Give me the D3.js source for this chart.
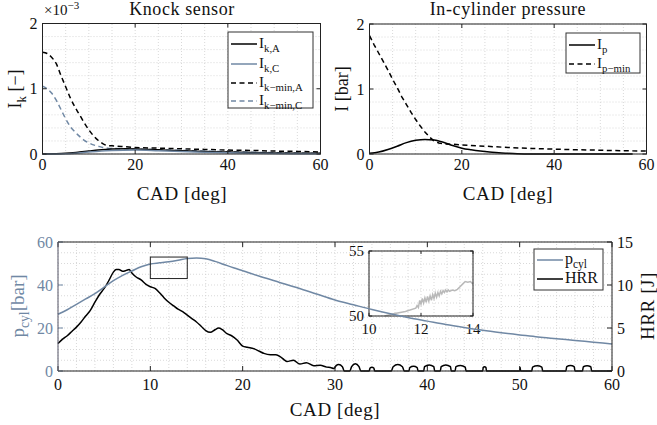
<!DOCTYPE html>
<html>
<head>
<meta charset="utf-8">
<script src="https://cdn.jsdelivr.net/npm/d3@7"></script>
<style>
  body { margin: 0; background: #fff; }
  svg text { font-family: "Liberation Serif", "DejaVu Serif", serif; fill: #111; }
</style>
</head>
<body>
<div id="chart"></div>
<script>
// ---- knock sensor (values in 1e-3) ----
const ikMinACad = [0,1,2,3,4,5,6,7,8,9,10,11,12,13,14,15,17,20,25,30,35,40,45,50,55,60];
const ikMinA    = [1.56,1.54,1.48,1.38,1.2,1.03,0.86,0.72,0.6,0.48,0.37,0.28,0.21,0.16,0.13,0.125,0.115,0.1,0.09,0.08,0.07,0.06,0.055,0.045,0.04,0.03];
const ikMinCCad = [0,1,2,3,4,5,6,7,8,9,10,11,12,13,14,15,20,25,30,35,40,45,50,55,60];
const ikMinC    = [1.04,1.0,0.93,0.82,0.68,0.54,0.42,0.34,0.27,0.21,0.17,0.14,0.12,0.1,0.09,0.085,0.075,0.065,0.055,0.045,0.035,0.028,0.02,0.015,0.01];
const ikACad = [0,5,8,10,12,15,18,20,25,30,35,40,45,50,55,60];
const ikA    = [0,0.01,0.03,0.045,0.06,0.075,0.08,0.078,0.065,0.05,0.038,0.03,0.022,0.016,0.012,0.01];
const ikCCad = [0,5,10,15,20,25,30,35,40,45,50,55,60];
const ikC    = [0,0.005,0.03,0.055,0.06,0.05,0.038,0.028,0.02,0.013,0.008,0.005,0.003];

// ---- in-cylinder pressure ----
const ipMinCad = [0,1,2,3,4,5,6,7,8,9,10,11,12,13,14,15,16,18,20,25,30,35,40,45,50,55,60];
const ipMin    = [1.82,1.68,1.55,1.42,1.29,1.15,1.02,0.88,0.76,0.64,0.53,0.43,0.34,0.26,0.2,0.17,0.155,0.15,0.14,0.12,0.1,0.085,0.075,0.065,0.058,0.05,0.045];
const ipCad = [0,2,4,6,8,10,12,14,16,18,20,22,24,26,28,30,32,35,57];
const ip    = [0.01,0.03,0.07,0.12,0.175,0.21,0.225,0.215,0.18,0.13,0.09,0.065,0.045,0.03,0.02,0.01,0.003,0,0];

// ---- bottom: p_cyl and HRR ----
const pcylCad = [0,1,2,3,4,5,6,7,8,9,10,11,12,13,14,15,16,17,18,19,20,22,24,26,28,30,32,34,36,38,40,42,44,46,48,50,52,54,56,58,60];
const pcyl    = [26.4,28.5,31,33.5,36,39,42,44.5,46.5,48.5,49.8,50.3,50.8,51.5,52.3,52.6,52.2,51,49.5,48,46.6,43.8,41.2,38.6,35.8,33,30.8,28.6,26.6,24.8,23.2,21.6,20.2,18.9,17.8,16.8,15.8,15,14.2,13.4,12.6];
const hrrCad = [0,0.5,1,1.5,2,2.5,3,3.5,4,4.5,5,5.5,6,6.3,6.6,7,7.4,7.7,8,8.5,9,9.5,10,10.5,11,11.5,12,12.5,13,13.5,14,14.5,15,15.5,16,16.5,17,17.4,17.8,18.3,18.8,19.4,20,20.5,21.2,21.8,22.3,23,23.6,24.1,24.5,24.8,25.5,26.2,26.9,27.7,28.4,29.1,29.5,
  29.9,30.1,30.4,30.8,31.0,31.6,31.8,32.2,32.6,32.8,33.7,33.8,34.0,34.2,34.3,36.1,36.3,36.8,37.3,37.5,38.0,38.1,38.5,38.9,39.0,39.6,39.7,40.2,40.7,40.8,41.4,41.5,42.0,42.5,42.6,43.0,43.1,43.6,44.1,44.2,46.0,46.05,46.2,46.35,46.4,50.0,50.05,50.1,51.3,51.4,51.9,52.4,52.5,55.0,55.1,55.5,55.9,56.0,56.8,56.9,57.3,57.7,57.8,60];
const hrr    = [3.2,3.7,4.1,4.6,5.1,5.7,6.4,7.05,8.0,8.9,9.6,10.5,11.5,11.8,11.8,11.6,11.7,11.8,11.4,10.9,10.6,10.1,9.8,9.6,9.1,8.5,8.0,7.6,7.2,6.9,6.5,6.1,5.7,5.2,4.7,4.5,4.8,5.0,4.8,4.35,4.1,3.6,2.9,2.75,2.6,2.3,2.05,1.9,1.9,1.65,1.3,1.1,1.25,0.8,0.97,0.62,0.66,0.45,0.4,
  0.3,0.6,0.75,0.5,0,0,0.5,0.85,0.5,0,0,0.35,0.45,0.35,0,0,0.5,0.75,0.5,0,0,0.4,0.55,0.4,0,0,0.5,0.7,0.5,0,0,0.5,0.7,0.5,0,0,0.5,0.65,0.45,0,0,0.4,0.5,0.4,0,0,0.4,0,0,0.45,0.6,0.45,0,0,0.5,0.65,0.5,0,0,0.5,0.6,0.5,0,0];

// ---- zoomed inset (p_cyl raw, 10-14 deg) ----
const insetCad = [10.6,11.0,11.4,11.8,11.85,11.9,11.95,12.0,12.05,12.1,12.15,12.2,12.25,12.3,12.35,12.4,12.45,12.5,12.55,12.6,12.65,12.7,12.75,12.8,12.85,12.9,12.95,13.0,13.05,13.1,13.2,13.3,13.4,13.5,13.6,13.7,13.8,13.9,14.0];
const insetP   = [50.0,50.2,50.35,50.6,50.8,50.65,51.2,50.9,51.35,51.0,51.4,51.05,51.5,51.15,51.55,51.2,51.65,51.35,51.75,51.45,51.8,51.55,51.9,51.7,51.95,51.8,52.0,51.85,52.0,51.9,52.0,51.95,52.05,52.25,52.45,52.65,52.6,52.65,52.45];

// ticks
const topXTicks = [0,20,40,60];
const topYTicks = [0,1,2];
const botXTicks = [0,10,20,30,40,50,60];
const botYTicks = [0,20,40,60];
const hrrTicks = [0,5,10,15];
const insetXTicks = [10,12,14];
const insetYTicks = [50,55];

const blue = "#7088a4", gridCol = "#cfcfcf", insetCol = "#b9b9b9";
const serif = '"Liberation Serif", "DejaVu Serif", serif';
const svg = d3.select("#chart").append("svg").attr("width", 657).attr("height", 425)
  .attr("font-family", serif);

const zip = (xs, ys) => xs.map((d, i) => [d, ys[i]]);

// dotted grid: minor lines and major lines
function grid(g, x, y, xStep, yStep) {
  const [x0, x1] = x.domain(), [y0, y1] = y.domain();
  d3.range(x0, x1 + 1e-9, xStep).forEach(v => {
    g.append("line").attr("x1", x(v)).attr("x2", x(v)).attr("y1", y.range()[0]).attr("y2", y.range()[1])
      .attr("stroke", gridCol).attr("stroke-width", 0.8).attr("stroke-dasharray", "1,2");
  });
  d3.range(y0, y1 + 1e-9, yStep).forEach(v => {
    g.append("line").attr("y1", y(v)).attr("y2", y(v)).attr("x1", x.range()[0]).attr("x2", x.range()[1])
      .attr("stroke", gridCol).attr("stroke-width", 0.8).attr("stroke-dasharray", "1,2");
  });
}

function txt(g) {
  return g.append("text").style("font-family", serif);
}

function box(g, x, y, xTicks, yTicks, tl, fs, rightTicks, labelGap) {
  const [xa, xb] = x.range(), [ya, yb] = y.range();
  xTicks.forEach(v => {
    g.append("line").attr("x1", x(v)).attr("x2", x(v)).attr("y1", ya).attr("y2", ya - tl).attr("stroke", "#222");
    g.append("line").attr("x1", x(v)).attr("x2", x(v)).attr("y1", yb).attr("y2", yb + tl).attr("stroke", "#222");
    txt(g).attr("x", x(v)).attr("y", ya + fs + (labelGap || 0)).attr("text-anchor", "middle").style("font-size", fs + "px").text(v);
  });
  yTicks.forEach(v => {
    g.append("line").attr("x1", xa).attr("x2", xa + tl).attr("y1", y(v)).attr("y2", y(v)).attr("stroke", "#222");
    if (rightTicks) g.append("line").attr("x1", xb).attr("x2", xb - tl).attr("y1", y(v)).attr("y2", y(v)).attr("stroke", "#222");
  });
  g.append("rect").attr("x", xa).attr("y", yb).attr("width", xb - xa).attr("height", ya - yb)
    .attr("fill", "none").attr("stroke", "#222").attr("stroke-width", 1);
}

function yLabels(g, x, y, ticks, fs, color, side) {
  ticks.forEach(v => {
    txt(g).attr("x", side === "right" ? x.range()[1] + 5 : x.range()[0] - 5).attr("y", y(v)).attr("dy", "0.35em")
      .attr("text-anchor", side === "right" ? "start" : "end").style("font-size", fs + "px").style("fill", color).text(v);
  });
}

// text with subscript
function subText(sel, main, sub, fs, after) {
  sel.append("tspan").text(main).style("font-size", fs + "px");
  sel.append("tspan").text(sub).style("font-size", (fs * 0.72) + "px").attr("dy", fs * 0.28);
  if (after) sel.append("tspan").text(after).style("font-size", fs + "px").attr("dy", -fs * 0.28);
  return sel;
}

function series(g, x, y, xs, ys, color, dashed, curve) {
  g.append("path").datum(zip(xs, ys))
    .attr("fill", "none").attr("stroke", color).attr("stroke-width", 1.5)
    .attr("stroke-dasharray", dashed ? "5,3.5" : null)
    .attr("d", d3.line().x(d => x(d[0])).y(d => y(d[1])).curve(curve || d3.curveMonotoneX));
}

function legend(g, x0, y0, w, h, items, rows, fs) {
  g.append("rect").attr("x", x0).attr("y", y0).attr("width", w).attr("height", h)
    .attr("fill", "#fff").attr("stroke", "#333").attr("stroke-width", 1);
  items.forEach((it, i) => {
    const yy = rows[i];
    g.append("line").attr("x1", x0 + 3).attr("x2", x0 + 29).attr("y1", yy).attr("y2", yy)
      .attr("stroke", it.color).attr("stroke-width", 1.5).attr("stroke-dasharray", it.dashed ? "5,3.5" : null);
    subText(txt(g).attr("x", x0 + 31).attr("y", yy + 4), it.main, it.sub, fs);
  });
}

const bigLabel = (g, x, y, s, fs) =>
  txt(g).attr("x", x).attr("y", y).attr("text-anchor", "middle").style("font-size", fs + "px")
    .style("letter-spacing", "0.6px").text(s);

// ================= top-left: Knock sensor =================
const xK = d3.scaleLinear().domain([0, 60]).range([42.5, 320.5]);
const yK = d3.scaleLinear().domain([0, 2]).range([154, 23.5]);
const gK = svg.append("g");
grid(gK, xK, yK, 5, 0.2);
series(gK, xK, yK, ikMinACad, ikMinA, "#000", true);
series(gK, xK, yK, ikMinCCad, ikMinC, blue, true);
series(gK, xK, yK, ikACad, ikA, "#000", false);
series(gK, xK, yK, ikCCad, ikC, blue, false);
box(gK, xK, yK, topXTicks, topYTicks, 4, 16, true);
yLabels(gK, xK, yK, topYTicks, 16, "#111");
bigLabel(gK, 182, 15, "Knock sensor", 18);
const exp = txt(gK).attr("x", 44).attr("y", 15);
exp.append("tspan").text("×10").style("font-size", "15px");
exp.append("tspan").text("−3").style("font-size", "11px").attr("dy", -6);
bigLabel(gK, 182, 200, "CAD [deg]", 19);
subText(txt(gK).attr("transform", "translate(21,89) rotate(-90)").attr("text-anchor", "middle"), "I", "k", 18, " [−]");
legend(gK, 228, 32, 85, 76, [
  {main: "I", sub: "k,A", color: "#000"},
  {main: "I", sub: "k,C", color: blue},
  {main: "I", sub: "k−min,A", color: "#000", dashed: true},
  {main: "I", sub: "k−min,C", color: blue, dashed: true}
], [44, 64, 83, 101], 15);

// ================= top-right: In-cylinder pressure =================
const xP = d3.scaleLinear().domain([0, 60]).range([369.5, 646.5]);
const yP = d3.scaleLinear().domain([0, 2]).range([154, 24]);
const gP = svg.append("g");
grid(gP, xP, yP, 5, 0.2);
series(gP, xP, yP, ipMinCad, ipMin, "#000", true, d3.curveLinear);
series(gP, xP, yP, ipCad, ip, "#000", false);
box(gP, xP, yP, topXTicks, topYTicks, 4, 16, true);
yLabels(gP, xP, yP, topYTicks, 16, "#111");
bigLabel(gP, 508, 15, "In-cylinder pressure", 18);
bigLabel(gP, 508, 200, "CAD [deg]", 19);
txt(gP).attr("transform", "translate(342,89) rotate(-90)").attr("dy", "0.35em").attr("text-anchor", "middle").style("font-size", "18px").text("I [bar]");
legend(gP, 566, 33, 74, 40, [
  {main: "I", sub: "p", color: "#000"},
  {main: "I", sub: "p−min", color: "#000", dashed: true}
], [45, 64], 15);

// ================= bottom: p_cyl and HRR =================
const xB = d3.scaleLinear().domain([0, 60]).range([58, 612]);
const yB = d3.scaleLinear().domain([0, 60]).range([371, 242]);
const yH = d3.scaleLinear().domain([0, 15]).range([371, 242]);
const gB = svg.append("g");
grid(gB, xB, yB, 2, 5);
series(gB, xB, yH, hrrCad, hrr, "#000", false);

// inset
const xI = d3.scaleLinear().domain([10, 14]).range([369, 473]);
const yI = d3.scaleLinear().domain([50, 55]).range([316, 251]);
const gI = gB.append("g");
gI.append("rect").attr("x", 369).attr("y", 251).attr("width", 104).attr("height", 65).attr("fill", "#fff");
grid(gI, xI, yI, 0.5, 1);
series(gI, xI, yI, insetCad, insetP, insetCol, false, d3.curveLinear);
box(gI, xI, yI, insetXTicks, insetYTicks, 3, 15, true, 3);
yLabels(gI, xI, yI, insetYTicks, 15, "#111");

series(gB, xB, yB, pcylCad, pcyl, blue, false);
gB.append("rect").attr("x", xB(10)).attr("y", yB(53)).attr("width", xB(14) - xB(10)).attr("height", yB(43) - yB(53))
  .attr("fill", "none").attr("stroke", "#222").attr("stroke-width", 1);

// axes of the bottom panel
const [bxa, bxb] = xB.range();
botXTicks.forEach(v => {
  gB.append("line").attr("x1", xB(v)).attr("x2", xB(v)).attr("y1", 371).attr("y2", 366).attr("stroke", "#222");
  gB.append("line").attr("x1", xB(v)).attr("x2", xB(v)).attr("y1", 242).attr("y2", 247).attr("stroke", "#222");
  txt(gB).attr("x", xB(v)).attr("y", 390).attr("text-anchor", "middle").style("font-size", "16px").text(v);
});
botYTicks.forEach(v => {
  gB.append("line").attr("x1", bxa).attr("x2", bxa + 5).attr("y1", yB(v)).attr("y2", yB(v)).attr("stroke", blue);
});
hrrTicks.forEach(v => {
  gB.append("line").attr("x1", bxb).attr("x2", bxb - 5).attr("y1", yH(v)).attr("y2", yH(v)).attr("stroke", "#222");
});
gB.append("line").attr("x1", bxa).attr("x2", bxb).attr("y1", 242).attr("y2", 242).attr("stroke", "#222");
gB.append("line").attr("x1", bxa).attr("x2", bxb).attr("y1", 371).attr("y2", 371).attr("stroke", "#222");
gB.append("line").attr("x1", bxa).attr("x2", bxa).attr("y1", 242).attr("y2", 371).attr("stroke", "#556");
gB.append("line").attr("x1", bxb).attr("x2", bxb).attr("y1", 242).attr("y2", 371).attr("stroke", "#222");
yLabels(gB, xB, yB, botYTicks, 16, blue);
yLabels(gB, xB, yH, hrrTicks, 16, "#111", "right");
bigLabel(gB, 335, 416, "CAD [deg]", 19);
const pl = txt(gB).attr("transform", "translate(24,306) rotate(-90)").attr("text-anchor", "middle").style("fill", blue);
subText(pl, "p", "cyl", 19, "[bar]");
pl.selectAll("tspan").style("fill", blue);
txt(gB).attr("transform", "translate(647,306) rotate(-90)").attr("dy", "0.35em").attr("text-anchor", "middle")
  .style("font-size", "19px").style("letter-spacing", "0.6px").text("HRR [J]");
legend(gB, 534, 249, 69, 41, [
  {main: "p", sub: "cyl", color: blue},
  {main: "HRR", sub: "", color: "#000"}
], [260, 279], 16);
</script>
</body>
</html>
